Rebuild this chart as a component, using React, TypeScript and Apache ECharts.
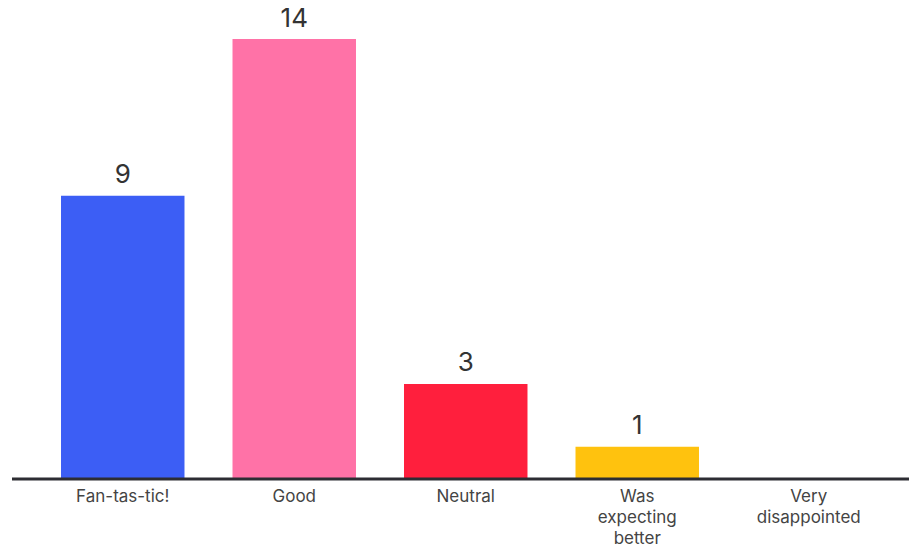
import React, { useEffect, useRef } from "react";
import * as echarts from "echarts";

const categories = ["Fan-tas-tic!", "Good", "Neutral", "Was\nexpecting\nbetter", "Very\ndisappointed"];
const values = [9, 14, 3, 1, 0];
const colors = ["#3c5ef5", "#ff72a7", "#ff1f3d", "#ffc20e", "#888888"];

export default function App() {
  const ref = useRef<HTMLDivElement>(null);
  useEffect(() => {
    if (!ref.current) return;
    const chart = echarts.init(ref.current, null, { renderer: "svg" });
    chart.setOption({
      animation: false,
      grid: { left: 37, width: 857.5, top: 39, bottom: 70 },
      xAxis: {
        type: "category",
        data: categories,
        axisLine: { show: false },
        axisTick: { show: false },
        axisLabel: {
          color: "#444",
          fontSize: 17,
          fontFamily: "Inter",
          lineHeight: 21,
          margin: 7,
          interval: 0,
        },
      },
      yAxis: {
        type: "value",
        min: 0,
        max: 14,
        show: false,
        splitLine: { show: false },
      },
      series: [
        {
          type: "bar",
          data: values.map((v, i) => ({ value: v, itemStyle: { color: colors[i] } })),
          barCategoryGap: "28%",
          label: {
            show: true,
            position: "top",
            distance: 9,
            color: "#333",
            fontSize: 26,
            fontFamily: "Inter",
            formatter: (p: any) => (p.value === 0 ? "" : String(p.value)),
          },
        },
      ],
      graphic: [
        {
          type: "line",
          shape: { x1: 12, y1: 479, x2: 909, y2: 479 },
          style: { stroke: "#2d2d33", lineWidth: 3 },
          z: 10,
        },
      ],
    });
    return () => chart.dispose();
  }, []);
  return (
    <div
      ref={ref}
      style={{ position: "fixed", left: 0, top: 0, width: 909, height: 548, background: "#fff" }}
    />
  );
}
